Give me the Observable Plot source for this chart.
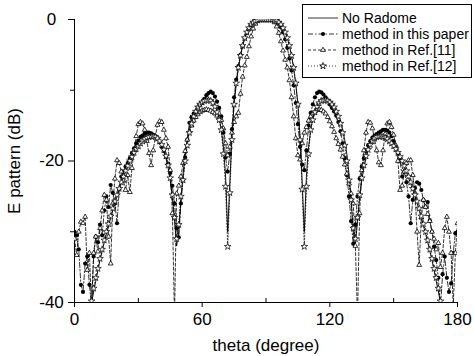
<!DOCTYPE html>
<html><head><meta charset="utf-8">
<script src="https://cdn.jsdelivr.net/npm/d3@7"></script>
<script src="https://cdn.jsdelivr.net/npm/@observablehq/plot@0.6"></script>
<style>
body{margin:0;background:#fff;}
#chart{position:relative;width:474px;height:356px;}
</style></head><body><div id="chart"></div>
<script>
const theta = [
0,1,2,3,4,5,6,7,8,9,10,11,12,13,14,15,16,17,18,19,20,21,22,23,24,25,26,27,28,29,
30,31,32,33,34,35,36,37,38,39,40,41,42,43,44,45,46,47,48,49,50,51,52,53,54,55,56,57,58,59,
60,61,62,63,64,65,66,67,68,69,70,71,72,73,74,75,76,77,78,79,80,81,82,83,84,85,86,87,88,89,
90,91,92,93,94,95,96,97,98,99,100,101,102,103,104,105,106,107,108,109,110,111,112,113,114,115,116,117,118,119,
120,121,122,123,124,125,126,127,128,129,130,131,132,133,134,135,136,137,138,139,140,141,142,143,144,145,146,147,148,149,
150,151,152,153,154,155,156,157,158,159,160,161,162,163,164,165,166,167,168,169,170,171,172,173,174,175,176,177,178,179,180];

const noRadome = [
-48,-47,-46,-45,-44,-43,-42,-41,-40,-38.5,
-37,-35.5,-34,-32.8,-31.5,-30.3,-29.2,-28.1,-27,-26,
-25,-24.1,-23.2,-22.4,-21.6,-20.9,-20.2,-19.6,-19,-18.5,
-18.1,-17.7,-17.4,-17.1,-16.9,-16.8,-16.7,-16.7,-16.8,-17,
-17.4,-17.9,-18.6,-19.6,-21,-22.8,-25.2,-28.5,-32,-30,
-25.5,-21.8,-19,-17,-15.5,-14.3,-13.4,-12.7,-12.2,-11.8,
-11.5,-11.3,-11.2,-11.2,-11.3,-11.6,-12.1,-12.9,-14,-15.6,
-18,-22,-30,-23,-16.5,-12,-9.2,-6.9,-5.1,-3.7,
-2.6,-1.8,-1.1,-0.6,-0.3,-0.1,0,0,0,0,
0,
0,0,0,0,-0.1,-0.3,-0.6,-1.1,-1.8,
-2.6,-3.7,-5.1,-6.9,-9.2,-12,-16.5,-23,-30,-22,
-18,-15.6,-14,-12.9,-12.1,-11.6,-11.3,-11.2,-11.2,-11.3,
-11.5,-11.8,-12.2,-12.7,-13.4,-14.3,-15.5,-17,-19,-21.8,
-25.5,-30,-32,-28.5,-25.2,-22.8,-21,-19.6,-18.6,-17.9,
-17.4,-17,-16.8,-16.7,-16.7,-16.8,-16.9,-17.1,-17.4,-17.7,
-18.1,-18.5,-19,-19.6,-20.2,-20.9,-21.6,-22.4,-23.2,-24.1,
-25,-26,-27,-28.1,-29.2,-30.3,-31.5,-32.8,-34,-35.5,
-37,-38.5,-40,-41,-42,-43,-44,-45,-46,-47,
-48];

const thisPaper = [
-30,-30.5,-32.5,-37.5,-38.5,-34.5,-33.5,-37.5,-40.5,-33.5,
-30.7,-31.5,-29,-30.5,-27,-25,-26.5,-23.4,-24.5,-26,
-28.8,-24,-22.2,-21.5,-20.8,-20.3,-19.6,-18.9,-18.2,-17.5,
-17.1,-16.6,-16.4,-16.1,-16,-16,-16.1,-16.3,-16.6,-16.8,
-17.3,-18,-18.6,-19.4,-20.4,-21.7,-23.5,-26,-29.5,-30.8,
-26,-22.7,-19.5,-17,-14.6,-13.8,-13.3,-13,-12.4,-12,
-11.8,-11.2,-10.7,-10.4,-10.2,-10.4,-10.9,-11.6,-12.5,-13.7,
-16,-19.5,-21.5,-19,-15.5,-11,-8.5,-6.6,-5,-3.8,
-2.7,-1.9,-1.3,-0.8,-0.4,-0.2,-0.1,0,0,0,
0,
0,0,0,-0.1,-0.3,-0.6,-1.1,-1.8,-2.8,
-4,-5.5,-7.2,-9.3,-11.8,-14.8,-18,-20.5,-21.3,-18.5,
-15,-13.2,-12,-11,-10.4,-10.2,-10.3,-10.6,-11,-11.5,
-12,-12.5,-13,-13.6,-14.5,-15.8,-17.5,-19.6,-22,-25,
-28.5,-31.7,-29,-25,-22.5,-20.8,-19.6,-18.6,-17.8,-17.2,
-16.7,-16.4,-16.2,-16,-15.8,-15.6,-15.6,-15.7,-16,-16.5,
-17.2,-18,-18.9,-20,-22.2,-21.5,-23,-25,-28.8,-25.5,
-23.8,-23,-23.2,-24.1,-25.5,-26.5,-25.8,-28.4,-30,-32.1,
-34,-36.5,-40.5,-36,-33.5,-36.5,-38.5,-37.3,-33,-30.2,
-30];

const ref11 = [
-31,-33.3,-30,-28.6,-28.8,-27.9,-35.4,-33,-40.5,-33,
-30.7,-32.8,-29.5,-27,-24.8,-25.5,-30.7,-34.5,-26,-22.5,
-19.9,-20.3,-21.5,-22.8,-24.1,-22,-24.4,-21,-18.5,-16.5,
-14.8,-14.5,-14.7,-15.6,-17.2,-18.9,-20.6,-18.5,-16.5,-14.9,
-14.4,-14.5,-15.6,-16.8,-18,-21.3,-27.4,-42,-24.6,-23.5,
-22.2,-20.3,-18.6,-17,-15.8,-15,-14.3,-13.8,-13.4,-13.1,
-12.9,-12.8,-12.7,-12.8,-12.9,-13.1,-13.3,-13.6,-13.9,-14.2,
-15.4,-17.5,-19.2,-18,-16,-14.5,-13.7,-13.2,-10.5,-8.1,
-6.5,-5.3,-3.8,-2.4,-1.3,-0.6,-0.2,0,0,0,
0,
0,0,-0.1,-0.4,-1,-1.9,-3.1,-4.4,-5.7,
-6.8,-8.6,-11,-13.7,-16.8,-19.2,-19.8,-17.5,-16,-15.2,
-14.3,-13.7,-13.3,-13,-12.8,-12.7,-12.8,-13,-13.3,-13.8,
-14.4,-15.1,-15.9,-16.8,-17.6,-18.4,-19.4,-20.5,-21.8,-23.2,
-24.6,-26,-32,-42,-27.4,-21.3,-18.5,-16,-14.5,-14.6,
-15.4,-16.8,-18.5,-20.2,-20.6,-18.5,-16.2,-14.7,-14.5,-15.2,
-16.3,-17.8,-20,-24.1,-23.5,-21.5,-20.3,-19.9,-19.9,-22,
-24.5,-30,-34.7,-28,-25.5,-26.5,-27.5,-28.5,-30,-31,
-32.5,-31.6,-35,-33,-29.5,-27.9,-30,-33,-40.5,-33,
-28.8];

const ref12 = [
-47,-46,-45,-44,-43,-42,-41.5,-40.8,-39.8,-38,
-36.5,-35.2,-33.8,-32.5,-31.2,-30,-28.9,-27.8,-26.7,-25.7,
-24.8,-23.9,-23,-22.2,-21.4,-20.7,-20,-19.4,-18.8,-18.3,
-17.9,-17.5,-17.2,-16.9,-16.7,-16.6,-16.5,-16.5,-16.6,-16.8,
-17.2,-17.7,-18.4,-19.3,-20.6,-22.4,-24.8,-28,-31,-29,
-25,-22.7,-20,-17.8,-16,-14.7,-13.7,-13,-12.4,-12,
-11.7,-11.5,-11.4,-11.4,-11.5,-11.8,-12.3,-13.1,-14.2,-15.6,
-19,-23.6,-32.1,-24.5,-17,-12,-9,-6.8,-5.1,-3.7,
-2.6,-1.8,-1.2,-0.7,-0.4,-0.2,-0.1,0,0,0,
0,
0,0,0,-0.1,-0.2,-0.4,-0.7,-1.2,-1.8,
-2.6,-3.7,-5.1,-6.8,-9,-12,-17,-24,-32.1,-23.6,
-19,-15.6,-14.2,-13.1,-12.3,-11.8,-11.5,-11.4,-11.4,-11.5,
-11.7,-12,-12.4,-13,-13.7,-14.7,-16,-17.8,-20,-22.7,
-25.5,-29.5,-31,-28,-24.8,-22.4,-20.6,-19.3,-18.4,-17.7,
-17.2,-16.8,-16.6,-16.5,-16.5,-16.6,-16.7,-16.9,-17.2,-17.5,
-17.9,-18.3,-18.8,-19.4,-20,-20.7,-21.4,-22.2,-23,-23.9,
-24.8,-25.7,-26.7,-27.8,-28.9,-30,-31.2,-32.5,-33.8,-35.2,
-36.5,-38,-39.8,-40.8,-41.5,-42,-43,-44,-45,-46,
-47];

const seriesNames = ["No Radome", "method in this paper", "method in Ref.[11]", "method in Ref.[12]"];
const xTicks = [0, 60, 120, 180];
const xMinorTicks = [30, 90, 150];
const yTicks = [0, -20, -40];
const yMinorTicks = [-10, -30];
const xDomain = [0, 180];
const yDomain = [-40, 0];

const rows = (vals) => theta.map((t, i) => ({theta: t, v: vals[i]}));
const dA = rows(noRadome), dB = rows(thisPaper), dC = rows(ref11), dD = rows(ref12);

const dashes = ["none", "5,2,1.5,2", "3,2", "1,2"];
const FONT = "'Liberation Sans', Arial, Helvetica, sans-serif";

const plot = Plot.plot({
  width: 474, height: 356,
  marginLeft: 74, marginRight: 17, marginTop: 19, marginBottom: 54,
  style: {fontFamily: FONT, fontSize: "17px", background: "white", color: "#000"},
  x: {domain: xDomain},
  y: {domain: yDomain},
  marks: [
    Plot.axisX({ticks: xTicks, tickSize: 5, tickPadding: 5, fontSize: 17, label: "theta (degree)", labelArrow: "none", labelAnchor: "center", labelOffset: 48, tickFormat: d => String(d)}),
    Plot.axisX({ticks: xMinorTicks, tickSize: -4, tickFormat: () => "", label: null}),
    Plot.axisY({ticks: yTicks, tickSize: 6, tickPadding: 17, textAnchor: "middle", fontSize: 17, label: "E pattern (dB)", labelArrow: "none", labelAnchor: "center", labelOffset: 67, tickFormat: d => String(d)}),
    Plot.axisY({ticks: yMinorTicks, tickSize: 4, tickFormat: () => "", label: null}),
    Plot.ruleY([yDomain[0]], {stroke: "#000"}),
    Plot.ruleX([xDomain[0]], {stroke: "#000"}),
    Plot.line(dA, {x: "theta", y: "v", stroke: "#000", strokeWidth: 0.9, clip: true}),
    Plot.line(dB, {x: "theta", y: "v", stroke: "#000", strokeWidth: 0.8, strokeDasharray: dashes[1], clip: true}),
    Plot.dot(dB, {x: "theta", y: "v", r: 2.1, fill: "#000", stroke: "none", clip: true}),
    Plot.line(dC, {x: "theta", y: "v", stroke: "#000", strokeWidth: 0.8, strokeDasharray: dashes[2], clip: true}),
    Plot.dot(dC, {x: "theta", y: "v", symbol: "triangle", r: 1.8, fill: "#fff", stroke: "#000", strokeWidth: 0.8, clip: true}),
    Plot.line(dD, {x: "theta", y: "v", stroke: "#000", strokeWidth: 0.8, strokeDasharray: dashes[3], clip: true}),
    Plot.dot(dD, {x: "theta", y: "v", symbol: "star", r: 2.1, fill: "#fff", stroke: "#000", strokeWidth: 0.7, clip: true})
  ]
});
document.getElementById("chart").appendChild(plot);

// legend box (inside the plot, top-right)
const svg = d3.select(plot);
const lg = svg.append("g").attr("font-family", FONT).attr("font-size", 14)
  .attr("fill", "#000").attr("text-anchor", "start");
lg.append("rect").attr("x", 302.5).attr("y", 4.5).attr("width", 169).attr("height", 73)
  .attr("fill", "#fff").attr("stroke", "#000").attr("stroke-width", 1);
const legendSymbols = [null, d3.symbolCircle, d3.symbolTriangle, d3.symbolStar];
const legendFill = [null, "#000", "#fff", "#fff"];
const legendSize = [0, Math.PI * 2.1 * 2.1, Math.PI * 1.8 * 1.8, Math.PI * 2.1 * 2.1];
seriesNames.forEach((name, i) => {
  const y = 18 + i * 16;
  lg.append("line").attr("x1", 308).attr("x2", 338).attr("y1", y).attr("y2", y)
    .attr("stroke", "#000").attr("stroke-width", 0.8)
    .attr("stroke-dasharray", dashes[i] === "none" ? null : dashes[i]);
  if (legendSymbols[i]) {
    lg.append("path").attr("transform", `translate(323,${y})`)
      .attr("d", d3.symbol(legendSymbols[i], legendSize[i])())
      .attr("fill", legendFill[i]).attr("stroke", i === 1 ? "none" : "#000").attr("stroke-width", 0.8);
  }
  lg.append("text").attr("x", 342).attr("y", y).attr("dy", "0.35em").attr("text-anchor", "start").text(name);
});
</script>
</body></html>
